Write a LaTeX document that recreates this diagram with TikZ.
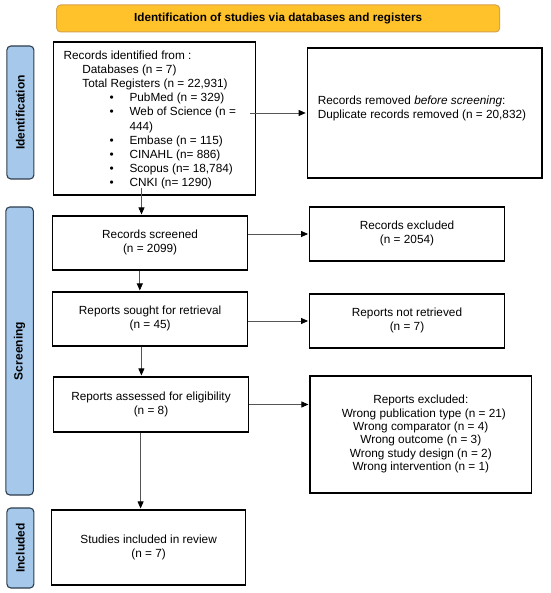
\documentclass[tikz,border=0pt]{standalone}
\usepackage{fontspec}
\setmainfont{Liberation Sans}
\usetikzlibrary{arrows.meta,calc}
\definecolor{bannerfill}{HTML}{FFC22A}
\definecolor{bannerdraw}{HTML}{D6A24C}
\definecolor{sidefill}{HTML}{A6C9EB}
\definecolor{sidedraw}{HTML}{2E3D4D}
\definecolor{arrowgray}{HTML}{555555}
\newcommand\btxt[2][-2.5pt]{\raisebox{#1}{\begin{tabular}{@{}c@{}}#2\end{tabular}}}
\begin{document}
\begin{tikzpicture}[x=1pt,y=-1pt,
  box/.style={draw=black,line width=1.1pt,inner sep=0pt,align=center,
    font=\fontsize{11.8}{14}\selectfont},
  side/.style={draw=sidedraw,fill=sidefill,line width=1.1pt,rounded corners=4pt,inner sep=0pt},
  sidetext/.style={rotate=90,font=\bfseries\fontsize{12}{14}\selectfont,inner sep=0pt},
  flow/.style={draw=arrowgray,line width=0.7pt,-{Triangle[length=7pt,width=6pt,fill=black,color=black]},shorten >=1pt}
]
\useasboundingbox (0,0) rectangle (550,593);
% banner
\node[draw=bannerdraw,fill=bannerfill,line width=1pt,rounded corners=4pt,
  minimum width=443pt,minimum height=27pt,inner sep=0pt,
  font=\bfseries\fontsize{11.7}{13}\selectfont] (banner) at (278.2,18.5)
  {Identification of studies via databases and registers};
% side labels
\node[side,minimum width=27pt,minimum height=133pt] (labid) at (20.4,112.5) {};
\node[sidetext] (labidt) at (labid.center) {Identification};
\node[side,minimum width=27.5pt,minimum height=288pt] (labscr) at (19.6,351) {};
\node[sidetext] (labscrt) at (labscr.center) {Screening};
\node[side,minimum width=27pt,minimum height=80pt] (labinc) at (20.4,548) {};
\node[sidetext] (labinct) at (labinc.center) {Included};
% boxes
\node[box,minimum width=202.4pt,minimum height=153pt] (b1) at (154.6,118.5) {};
\node[anchor=west,align=left,inner sep=0pt,font=\fontsize{11.8}{14.2}\selectfont] (b1t) at ($(b1.west)+(10.5,1.5)$)
{Records identified from :\\
\hspace*{18.8pt}Databases (n = 7)\\
\hspace*{18.8pt}Total Registers (n = 22,931)\\
\hspace*{46pt}\makebox[20pt][l]{\textbullet}PubMed (n = 329)\\
\hspace*{46pt}\makebox[20pt][l]{\textbullet}Web of Science (n =\\
\hspace*{66pt}444)\\
\hspace*{46pt}\makebox[20pt][l]{\textbullet}Embase (n = 115)\\
\hspace*{46pt}\makebox[20pt][l]{\textbullet}CINAHL (n= 886)\\
\hspace*{46pt}\makebox[20pt][l]{\textbullet}Scopus (n= 18,784)\\
\hspace*{46pt}\makebox[20pt][l]{\textbullet}CNKI (n= 1290)};
\node[box,minimum width=234.8pt,minimum height=130pt] (b2) at (424.6,113) {};
\node[anchor=west,align=left,inner sep=0pt,font=\fontsize{11.8}{13.5}\selectfont] (b2t) at ($(b2.west)+(11,-4.5)$)
{Records removed \textit{before screening}:\\Duplicate records removed (n = 20,832)};
\node[box,minimum width=195.4pt,minimum height=54pt] (screened) at (150.1,243) {\btxt{Records screened\\(n = 2099)}};
\node[box,minimum width=194.8pt,minimum height=54pt] (excl) at (407,234) {\btxt{Records excluded\\(n = 2054)}};
\node[box,minimum width=195.4pt,minimum height=54pt] (sought) at (150.1,319) {\btxt{Reports sought for retrieval\\(n = 45)}};
\node[box,minimum width=194.8pt,minimum height=54pt] (notret) at (407,321) {\btxt{Reports not retrieved\\(n = 7)}};
\node[box,minimum width=195pt,minimum height=55pt] (assessed) at (151,404.5) {\btxt[3pt]{Reports assessed for eligibility\\(n = 8)}};
\node[box,minimum width=221.6pt,minimum height=117pt,font=\fontsize{11.8}{13.4}\selectfont] (repexcl) at (420.8,434.5)
{\btxt{Reports excluded:\\
\hspace*{6pt}Wrong publication type (n = 21)\\
Wrong comparator (n = 4)\\
Wrong outcome (n = 3)\\
Wrong study design (n = 2)\\
Wrong intervention (n = 1)}};
\node[box,minimum width=194pt,minimum height=75pt] (incl) at (148.6,547.5) {\btxt{Studies included in review\\(n = 7)}};
% connectors
\coordinate (va) at (141.5,0);
\coordinate (vb) at (139.8,0);
\coordinate (vc) at (141.4,0);
\coordinate (vd) at (140.6,0);
\draw[flow,shorten <=-6pt] (b1.east |- b2.west) -- (b2.west);
\draw[flow] (screened.east |- excl.west) -- (excl.west);
\draw[flow] (sought.east |- notret.west) -- (notret.west);
\draw[flow] (assessed.east) -- (assessed.east -| repexcl.west);
\draw[flow,shorten <=-8pt] (b1.south -| va) -- (screened.north -| va);
\draw[flow] (screened.south -| vb) -- (sought.north -| vb);
\draw[flow] (sought.south -| vc) -- (assessed.north -| vc);
\draw[flow] (assessed.south -| vd) -- (incl.north -| vd);
\end{tikzpicture}
\end{document}
